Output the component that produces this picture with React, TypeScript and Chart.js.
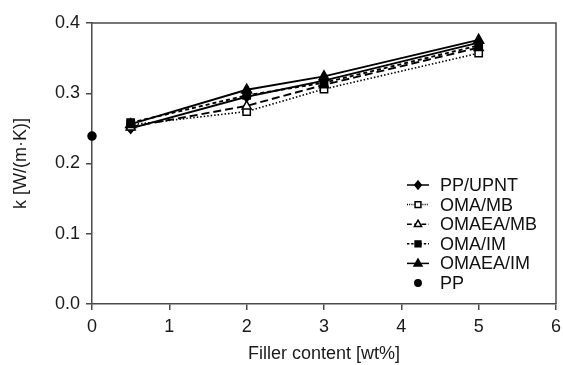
import React, { useEffect, useRef } from "react";
import { Chart, registerables } from "chart.js";

Chart.register(...registerables);

const fillerX = [0.5, 2, 3, 5];
const ppUpnt = [0.25, 0.295, 0.318, 0.372];
const omaMb = [0.255, 0.274, 0.306, 0.357];
const omaeaMb = [0.252, 0.282, 0.312, 0.365];
const omaIm = [0.258, 0.297, 0.315, 0.368];
const omaeaIm = [0.256, 0.305, 0.324, 0.376];
const ppX = [0];
const ppY = [0.239];
const seriesNames = ["PP/UPNT", "OMA/MB", "OMAEA/MB", "OMA/IM", "OMAEA/IM", "PP"];
const xTicks = [0, 1, 2, 3, 4, 5, 6];
const yTicks = [0, 0.1, 0.2, 0.3, 0.4];

const FONT = "'Liberation Sans', Arial, Helvetica, sans-serif";
const AXIS = "#4a4a4a";

type Marker = { shape: string; filled: boolean; r: number; dash: number[]; line: boolean };
const markers: Marker[] = [
  { shape: "diamond", filled: true, r: 5, dash: [], line: true },
  { shape: "square", filled: false, r: 4.3, dash: [1.5, 2], line: true },
  { shape: "triangle", filled: false, r: 5, dash: [8, 4], line: true },
  { shape: "square", filled: true, r: 4.3, dash: [4, 3], line: true },
  { shape: "triangle", filled: true, r: 5.5, dash: [], line: true },
  { shape: "circle", filled: true, r: 4, dash: [], line: false },
];

function drawMarker(ctx: CanvasRenderingContext2D, m: Marker, x: number, y: number, r: number) {
  ctx.save();
  ctx.setLineDash([]);
  ctx.lineWidth = 1.5;
  ctx.strokeStyle = "#000";
  ctx.fillStyle = m.filled ? "#000" : "#fff";
  ctx.beginPath();
  if (m.shape === "diamond") {
    ctx.moveTo(x, y - r);
    ctx.lineTo(x + r * 0.8, y);
    ctx.lineTo(x, y + r);
    ctx.lineTo(x - r * 0.8, y);
    ctx.closePath();
  } else if (m.shape === "square") {
    ctx.rect(x - r * 0.85, y - r * 0.85, r * 1.7, r * 1.7);
  } else if (m.shape === "triangle") {
    ctx.moveTo(x, y - r);
    ctx.lineTo(x + r * 0.9, y + r * 0.6);
    ctx.lineTo(x - r * 0.9, y + r * 0.6);
    ctx.closePath();
  } else {
    ctx.arc(x, y, r, 0, Math.PI * 2);
  }
  ctx.fill();
  ctx.stroke();
  ctx.restore();
}

const markerPlugin = {
  id: "customMarkers",
  afterDatasetsDraw(chart: any) {
    const ctx = chart.ctx;
    chart.data.datasets.forEach((ds: any, i: number) => {
      const meta = chart.getDatasetMeta(i);
      meta.data.forEach((pt: any) => {
        drawMarker(ctx, markers[i], pt.x, pt.y, markers[i].r);
      });
    });
  },
  afterDraw(chart: any) {
    const ctx = chart.ctx;
    const a = chart.chartArea;
    ctx.save();
    ctx.strokeStyle = AXIS;
    ctx.lineWidth = 1.5;
    ctx.setLineDash([]);
    ctx.beginPath();
    ctx.moveTo(a.left, a.top);
    ctx.lineTo(a.right, a.top);
    ctx.lineTo(a.right, a.bottom);
    ctx.stroke();
    // legend
    const x0 = 407;
    const x1 = 429;
    const xm = 418;
    const tx = 440;
    const y0 = 185;
    const dy = 19.6;
    ctx.font = `18px ${FONT}`;
    ctx.textBaseline = "middle";
    ctx.textAlign = "left";
    seriesNames.forEach((name, i) => {
      const y = y0 + i * dy;
      const m = markers[i];
      if (m.line) {
        ctx.save();
        ctx.strokeStyle = "#000";
        ctx.lineWidth = 1.5;
        ctx.setLineDash(m.dash.length ? m.dash.map((d) => Math.max(1, d * 0.6)) : []);
        ctx.beginPath();
        ctx.moveTo(x0, y);
        ctx.lineTo(x1, y);
        ctx.stroke();
        ctx.restore();
      }
      drawMarker(ctx, m, xm, y, m.r * 0.8);
      ctx.fillStyle = "#111";
      ctx.fillText(name, tx, y + 1);
    });
    ctx.restore();
  },
};

export default function App() {
  const ref = useRef<HTMLCanvasElement | null>(null);
  useEffect(() => {
    if (!ref.current) return;
    const series = [ppUpnt, omaMb, omaeaMb, omaIm, omaeaIm];
    const datasets: any[] = series.map((vals, i) => ({
      label: seriesNames[i],
      data: fillerX.map((x, j) => ({ x, y: vals[j] })),
      borderColor: "#000",
      borderWidth: i === 1 ? 1.6 : 1.9,
      borderDash: markers[i].dash,
      pointRadius: 0,
      showLine: true,
      fill: false,
      tension: 0,
    }));
    datasets.push({
      label: seriesNames[5],
      data: ppX.map((x, j) => ({ x, y: ppY[j] })),
      borderColor: "#000",
      pointRadius: 0,
      showLine: false,
    });
    const chart = new Chart(ref.current, {
      type: "scatter",
      data: { datasets },
      plugins: [markerPlugin],
      options: {
        animation: false,
        responsive: false,
        events: [],
        layout: { padding: { left: 4, right: 7, top: 23, bottom: 0 } },
        plugins: { legend: { display: false }, tooltip: { enabled: false } },
        scales: {
          x: {
            type: "linear",
            min: 0,
            max: 6,
            afterBuildTicks: (s: any) => {
              s.ticks = xTicks.map((v) => ({ value: v }));
            },
            afterFit: (s: any) => {
              s.height = 61;
              s.paddingRight = 0;
              s.paddingLeft = 0;
            },
            ticks: {
              color: "#1a1a1a",
              font: { family: FONT, size: 18 },
              padding: 6,
              callback: (v: any) => String(v),
            },
            grid: { drawOnChartArea: false, drawTicks: true, tickLength: 6, color: AXIS, lineWidth: 1.5 },
            border: { display: true, color: AXIS, width: 1.5 },
            title: {
              display: true,
              text: "Filler content [wt%]",
              color: "#1a1a1a",
              font: { family: FONT, size: 18 },
              padding: { top: 0, bottom: 0 },
            },
          },
          y: {
            type: "linear",
            min: 0,
            max: 0.4,
            afterBuildTicks: (s: any) => {
              s.ticks = yTicks.map((v) => ({ value: v }));
            },
            afterFit: (s: any) => {
              s.width = 88;
              s.paddingTop = 0;
              s.paddingBottom = 0;
            },
            ticks: {
              color: "#1a1a1a",
              font: { family: FONT, size: 18 },
              padding: 6,
              callback: (v: any) => Number(v).toFixed(1),
            },
            grid: { drawOnChartArea: false, drawTicks: true, tickLength: 6, color: AXIS, lineWidth: 1.5 },
            border: { display: true, color: AXIS, width: 1.5 },
            title: {
              display: true,
              text: "k [W/(m·K)]",
              color: "#1a1a1a",
              font: { family: FONT, size: 18 },
              padding: { top: 6, bottom: 0 },
            },
          },
        },
      },
    });
    return () => chart.destroy();
  }, []);
  return (
    <div style={{ position: "fixed", left: 0, top: 0, width: 563, height: 365, background: "#fff" }}>
      <canvas ref={ref} width={563} height={365} style={{ width: 563, height: 365 }} />
    </div>
  );
}
